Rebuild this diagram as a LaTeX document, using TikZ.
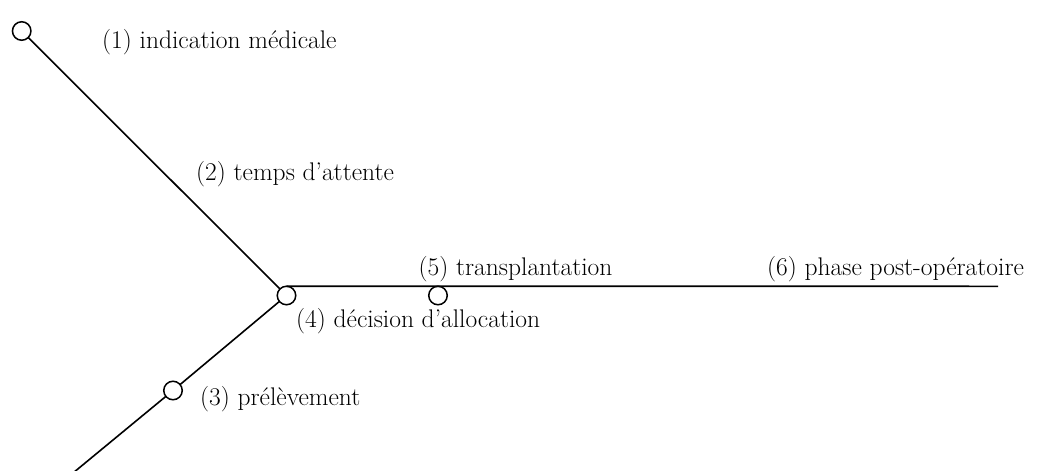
\documentclass[tikz,border=0pt]{standalone}
\begin{document}
\begin{tikzpicture}[x=1pt,y=-1pt,
  stage/.style={circle,draw,line width=1.5pt,minimum size=18.5pt,inner sep=0pt,outer sep=0pt,fill=white},
  link/.style={line width=1.6pt},
  lab/.style={anchor=base west,inner sep=0pt,font=\fontsize{25.5}{30}\selectfont}]
\useasboundingbox (0,0) rectangle (1053,471);
\node[stage] (c1) at (21.7,31) {};
\node[stage] (c4) at (286.5,295.5) {};
\node[stage] (c3) at (173,390.5) {};
\node[stage] (c5) at (438,295.5) {};
\coordinate (e3) at (73,473);
\coordinate (e6) at (998,286.3);
\draw[link] (c1) -- (c4);
\draw[link] (e3) -- (c3) -- (c4);
\draw[link] (c4.north) -- (c5.north) -- (e6);
\node[lab] (l1) at (102,48) {(1) indication médicale};
\node[lab] (l2) at (196,180) {(2) temps d’attente};
\node[lab] (l3) at (200,405) {(3) prélèvement};
\node[lab] (l4) at (296,327) {(4) décision d’allocation};
\node[lab] (l5) at (418.5,275) {(5) transplantation};
\node[lab] (l6) at (767,275) {(6) phase post-opératoire};
\end{tikzpicture}
\end{document}
